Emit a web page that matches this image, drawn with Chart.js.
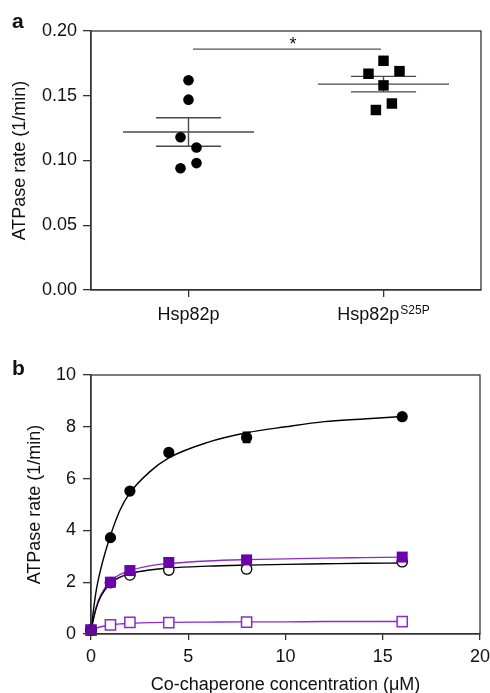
<!DOCTYPE html>
<html><head><meta charset="utf-8">
<script src="https://cdn.jsdelivr.net/npm/chart.js@4.4.1/dist/chart.umd.min.js"></script>
<style>
html,body{margin:0;padding:0;background:#fff;overflow:hidden;width:490px;height:693px;}
#wa{position:absolute;left:0;top:0;width:490px;height:340px;}
#wb{position:absolute;left:0;top:340px;width:490px;height:360px;}
canvas{display:block;}
</style></head><body>
<div id="wa"><canvas id="ca" width="490" height="340"></canvas></div>
<div id="wb"><canvas id="cb" width="490" height="360"></canvas></div>
<script>
// ---------------- Panel a data ----------------
const groupsA = ['Hsp82p', 'Hsp82p'];
const groupSupA = ['', 'S25P'];
const wildType = [0.162, 0.147, 0.118, 0.110, 0.098, 0.094];
const mutantS25P = [0.177, 0.167, 0.169, 0.158, 0.144, 0.139];
const meansA = [0.122, 0.159];
const semsA = [0.011, 0.006];
const sigLevelA = 0.186;
const ticksA = [0, 0.05, 0.10, 0.15, 0.20];

// ---------------- Panel b data ----------------
const concB = [0, 1, 2, 4, 8, 16];
const filledCircles = [0.15, 3.72, 5.52, 7.01, 7.59, 8.39];
const filledCirclesErr = [0, 0, 0, 0, 0.2, 0];
const openCircles = [0.15, 1.98, 2.28, 2.47, 2.51, 2.79];
const filledSquares = [0.15, 2.0, 2.45, 2.76, 2.86, 2.97];
const openSquares = [0.15, 0.35, 0.45, 0.44, 0.46, 0.48];
// fitted curves
const fitX = [0, 0.25, 0.5, 1, 1.5, 2, 3, 4, 6, 8, 10, 12, 14, 16];
const fitFilledCircles = [0.15, 1.6, 2.5, 3.8, 4.8, 5.45, 6.25, 6.8, 7.4, 7.77, 8.0, 8.2, 8.3, 8.4];
const fitOpenCircles = [0.15, 0.95, 1.45, 1.95, 2.2, 2.33, 2.47, 2.55, 2.62, 2.66, 2.69, 2.71, 2.73, 2.74];
const fitFilledSquares = [0.15, 1.0, 1.5, 2.05, 2.3, 2.45, 2.63, 2.72, 2.82, 2.87, 2.9, 2.93, 2.95, 2.97];
const fitOpenSquares = [0.15, 0.22, 0.28, 0.35, 0.39, 0.41, 0.44, 0.45, 0.46, 0.47, 0.47, 0.48, 0.48, 0.48];
const ticksBx = [0, 5, 10, 15, 20];
const ticksBy = [0, 2, 4, 6, 8, 10];

// ---------------- styles ----------------
const FONT = "'Liberation Sans', Arial, Helvetica, sans-serif";
const INK = '#111';
const AXIS = '#333';
const MEANC = '#4a4a4a';
const PURPLE_FILL = '#6c00aa';
const PURPLE_LINE = '#8a2ccc';
const centersA = [0.5, 1.5];
const jitterWT = [0, 0, -0.041, 0.041, 0.041, -0.041];
const jitterMut = [0, -0.077, 0.082, 0, 0.043, -0.039];
const meanHalf = 0.336, semHalf = 0.167;

function seg(x1, y1, x2, y2, color, order) {
  return { data: [{x: x1, y: y1}, {x: x2, y: y2}], showLine: true, borderColor: color,
           borderWidth: 1.4, pointRadius: 0, order: order || 10, clip: false };
}

const framePlugin = {
  id: 'frame',
  afterDraw(chart) {
    const {ctx, chartArea: a} = chart;
    ctx.save();
    ctx.strokeStyle = AXIS; ctx.lineWidth = 1.3;
    ctx.strokeRect(a.left, a.top, a.right - a.left, a.bottom - a.top);
    ctx.restore();
  }
};

// ---------- Panel a ----------
const dsA = [];
dsA.push({ data: wildType.map((v, i) => ({x: centersA[0] + jitterWT[i], y: v})),
  pointStyle: 'circle', pointRadius: 5.3, backgroundColor: '#000', borderWidth: 0, order: 1 });
dsA.push({ data: mutantS25P.map((v, i) => ({x: centersA[1] + jitterMut[i], y: v})),
  pointStyle: 'rect', pointRadius: 7.4, backgroundColor: '#000', borderWidth: 0, order: 1 });
meansA.forEach((m, i) => {
  const c = centersA[i], s = semsA[i];
  dsA.push(seg(c - meanHalf, m, c + meanHalf, m, MEANC));
  dsA.push(seg(c - semHalf, m + s, c + semHalf, m + s, MEANC));
  dsA.push(seg(c - semHalf, m - s, c + semHalf, m - s, MEANC));
  dsA.push(seg(c, m - s, c, m + s, MEANC));
});
dsA.push(seg(0.523, sigLevelA, 1.487, sigLevelA, '#555'));

const labelsA = {
  id: 'labelsA',
  afterDraw(chart) {
    const ctx = chart.ctx, xs = chart.scales.x, ys = chart.scales.y;
    ctx.save();
    ctx.fillStyle = INK; ctx.textBaseline = 'alphabetic'; ctx.textAlign = 'left';
    groupsA.forEach((g, i) => {
      const px = xs.getPixelForValue(centersA[i]);
      ctx.font = `18px ${FONT}`;
      const w1 = ctx.measureText(g).width;
      ctx.font = `12px ${FONT}`;
      const w2 = groupSupA[i] ? ctx.measureText(groupSupA[i]).width + 1 : 0;
      const x0 = px - (w1 + w2) / 2;
      ctx.font = `18px ${FONT}`;
      ctx.fillText(g, x0, 320);
      if (groupSupA[i]) { ctx.font = `12px ${FONT}`; ctx.fillText(groupSupA[i], x0 + w1 + 1, 313.5); }
    });
    // significance asterisk
    ctx.font = `18px ${FONT}`; ctx.textAlign = 'center';
    ctx.fillText('*', xs.getPixelForValue(1.036), ys.getPixelForValue(sigLevelA) + 1);
    // panel letter
    ctx.font = `bold 21px ${FONT}`; ctx.textAlign = 'left';
    ctx.fillText('a', 12, 28);
    ctx.restore();
  }
};

new Chart(document.getElementById('ca'), {
  type: 'scatter',
  data: { datasets: dsA },
  options: {
    responsive: false, animation: false, devicePixelRatio: 1,
    layout: { padding: { left: 0, top: 31, right: 9, bottom: 0 } },
    plugins: { legend: { display: false }, tooltip: { enabled: false } },
    scales: {
      x: { type: 'linear', min: 0, max: 2,
        afterBuildTicks: s => { s.ticks = centersA.map(v => ({value: v})); },
        afterFit: s => { s.height = 50; s.paddingLeft = 0; s.paddingRight = 0; },
        ticks: { display: false },
        grid: { display: true, drawOnChartArea: false, drawTicks: true, tickLength: 7, color: AXIS, lineWidth: 1.3 },
        border: { display: true, color: AXIS, width: 1.3 } },
      y: { type: 'linear', min: 0, max: 0.2,
        afterBuildTicks: s => { s.ticks = ticksA.map(v => ({value: v})); },
        afterFit: s => { s.width = 91; s.paddingTop = 0; s.paddingBottom = 0; },
        ticks: { font: { family: FONT, size: 18 }, color: INK, padding: 6, callback: v => Number(v).toFixed(2) },
        grid: { display: true, drawOnChartArea: false, drawTicks: true, tickLength: 8, color: AXIS, lineWidth: 1.3 },
        border: { display: true, color: AXIS, width: 1.3 },
        title: { display: true, text: 'ATPase rate (1/min)', font: { family: FONT, size: 18 }, color: INK, padding: { top: 9, bottom: 0 } } }
    }
  },
  plugins: [framePlugin, labelsA]
});

// ---------- Panel b ----------
function pts(ys) { return concB.map((x, i) => ({x: x, y: ys[i]})); }
function fit(ys) { return fitX.map((x, i) => ({x: x, y: ys[i]})); }
function fitLine(ys, color, order) {
  return { data: fit(ys), showLine: true, borderColor: color, borderWidth: 1.4, pointRadius: 0,
           cubicInterpolationMode: 'monotone', order: order, clip: false };
}
const dsB = [
  { data: pts(filledSquares), pointStyle: 'rect', pointRadius: 7.8, backgroundColor: PURPLE_FILL, borderColor: PURPLE_FILL, borderWidth: 0, order: 1, clip: false },
  { data: pts(filledCircles), pointStyle: 'circle', pointRadius: 5.6, backgroundColor: '#000', borderWidth: 0, order: 2, clip: false },
  { data: pts(openCircles), pointStyle: 'circle', pointRadius: 5.2, backgroundColor: '#fff', borderColor: '#000', borderWidth: 1.3, order: 3, clip: false },
  { data: pts(openSquares), pointStyle: 'rect', pointRadius: 7.2, backgroundColor: '#fff', borderColor: PURPLE_LINE, borderWidth: 1.5, order: 4, clip: false },
  fitLine(fitFilledCircles, '#000', 10),
  fitLine(fitOpenCircles, '#000', 11),
  fitLine(fitFilledSquares, PURPLE_LINE, 12),
  fitLine(fitOpenSquares, PURPLE_LINE, 13)
];

const extrasB = {
  id: 'extrasB',
  afterDatasetsDraw(chart) {
    const ctx = chart.ctx, xs = chart.scales.x, ys = chart.scales.y;
    ctx.save();
    ctx.strokeStyle = '#000'; ctx.lineWidth = 1.5;
    concB.forEach((x, i) => {
      const e = filledCirclesErr[i];
      if (!e) return;
      const px = xs.getPixelForValue(x);
      const y1 = ys.getPixelForValue(filledCircles[i] - e), y2 = ys.getPixelForValue(filledCircles[i] + e);
      ctx.beginPath();
      ctx.moveTo(px, y1); ctx.lineTo(px, y2);
      ctx.moveTo(px - 4, y1); ctx.lineTo(px + 4, y1);
      ctx.moveTo(px - 4, y2); ctx.lineTo(px + 4, y2);
      ctx.stroke();
    });
    ctx.restore();
  },
  afterDraw(chart) {
    const ctx = chart.ctx;
    ctx.save();
    ctx.fillStyle = INK; ctx.font = `bold 21px ${FONT}`; ctx.textBaseline = 'alphabetic';
    ctx.fillText('b', 12, 35);
    ctx.restore();
  }
};

new Chart(document.getElementById('cb'), {
  type: 'scatter',
  data: { datasets: dsB },
  options: {
    responsive: false, animation: false, devicePixelRatio: 1,
    layout: { padding: { left: 0, top: 35, right: 10, bottom: 0 } },
    plugins: { legend: { display: false }, tooltip: { enabled: false } },
    scales: {
      x: { type: 'linear', min: 0, max: 20,
        afterBuildTicks: s => { s.ticks = ticksBx.map(v => ({value: v})); },
        afterFit: s => { s.height = 66; s.paddingLeft = 0; s.paddingRight = 0; },
        ticks: { font: { family: FONT, size: 18 }, color: INK, padding: 6.5 },
        grid: { display: true, drawOnChartArea: false, drawTicks: true, tickLength: 6, color: AXIS, lineWidth: 1.3 },
        border: { display: true, color: AXIS, width: 1.3 },
        title: { display: true, text: 'Co-chaperone concentration (μM)', font: { family: FONT, size: 18 }, color: INK, padding: { top: 0, bottom: 4 } } },
      y: { type: 'linear', min: 0, max: 10,
        afterBuildTicks: s => { s.ticks = ticksBy.map(v => ({value: v})); },
        afterFit: s => { s.width = 91; s.paddingTop = 0; s.paddingBottom = 0; },
        ticks: { font: { family: FONT, size: 18 }, color: INK, padding: 7 },
        grid: { display: true, drawOnChartArea: false, drawTicks: true, tickLength: 8, color: AXIS, lineWidth: 1.3 },
        border: { display: true, color: AXIS, width: 1.3 },
        title: { display: true, text: 'ATPase rate (1/min)', font: { family: FONT, size: 18 }, color: INK, padding: { top: 24.5, bottom: 0 } } }
    }
  },
  plugins: [framePlugin, extrasB]
});
</script>
</body></html>
